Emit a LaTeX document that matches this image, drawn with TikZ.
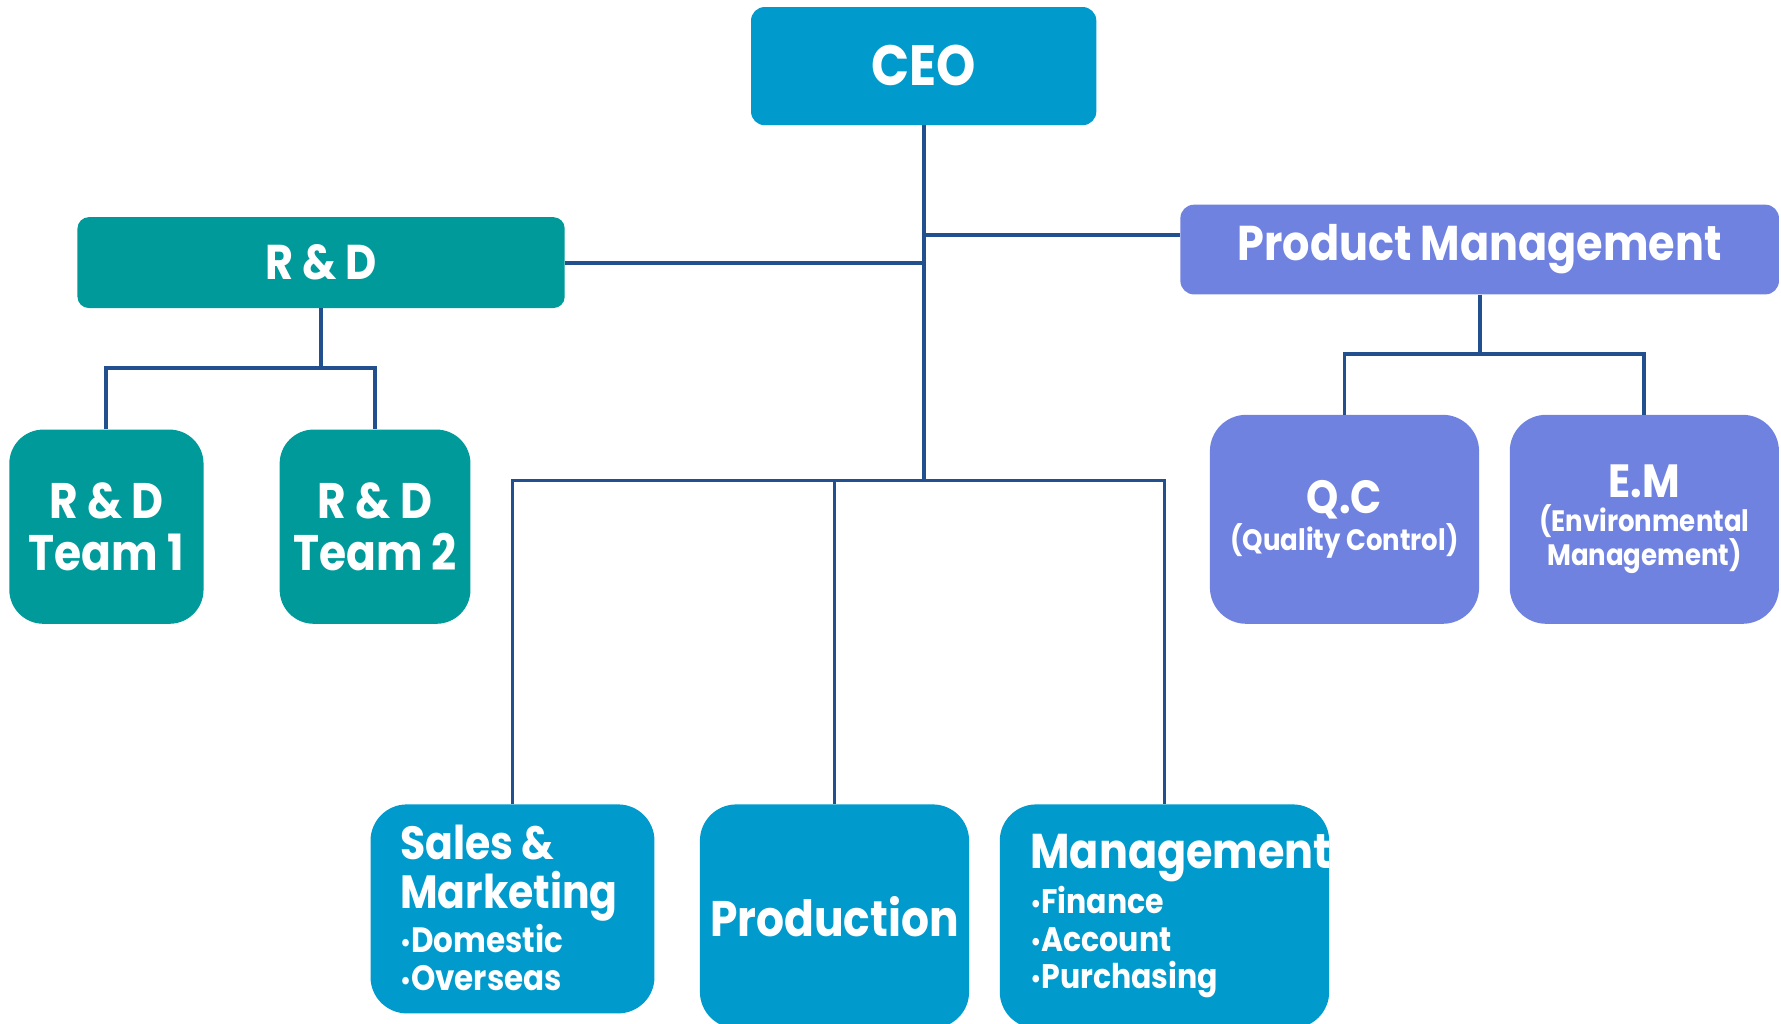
\documentclass[tikz,border=0pt]{standalone}
\usepackage{fontspec}
\setmainfont{Poppins}[FakeStretch=0.88]
\definecolor{cblue}{RGB}{0,155,204}
\definecolor{cteal}{RGB}{0,154,154}
\definecolor{cpurple}{RGB}{112,130,224}
\definecolor{cline}{RGB}{34,80,142}
\newcommand\fsz[2]{\fontsize{#1pt}{#2pt}\selectfont}
\newcommand\bul{{\fsz{22}{22}\raisebox{1pt}{•}}}
\begin{document}
\begin{tikzpicture}[x=1pt,y=-1pt,
  box/.style={rectangle, inner sep=0pt, anchor=north west, text=white, font=\bfseries},
  conn/.style={draw=cline, line width=3.4pt},
  txt/.style={inner sep=0pt, text=white, font=\bfseries, align=left, anchor=west}]
\useasboundingbox (0,0) rectangle (1568,901.5);

% boxes
\node[box, fill=cblue, rounded corners=12pt, minimum width=304pt, minimum height=104pt, font=\bfseries\fsz{50}{56}] (ceo) at (661,6) {\raisebox{2pt}{CEO}};
\node[box, fill=cteal, rounded corners=10pt, minimum width=429pt, minimum height=80pt, font=\bfseries\fsz{43}{48}] (rd) at (68,191) {R \& D};
\node[box, fill=cpurple, rounded corners=12pt, minimum width=527pt, minimum height=79pt, font=\bfseries\fsz{43}{48}] (pm) at (1039,180) {Product Management};

\node[box, fill=cteal, rounded corners=30pt, minimum width=171pt, minimum height=171pt, align=center, font=\bfseries\fsz{44}{46}] (t1) at (8,378) {R \& D\\Team 1};
\node[box, fill=cteal, rounded corners=30pt, minimum width=168pt, minimum height=171pt, align=center, font=\bfseries\fsz{44}{46}] (t2) at (246,378) {R \& D\\Team 2};

\node[box, fill=cpurple, rounded corners=32pt, minimum width=237pt, minimum height=184pt, align=center, font=\bfseries\fsz{26}{29}] (qc) at (1065,365) {{\fsz{41}{46}Q.C}\\[3pt](Quality Control)};
\node[box, fill=cpurple, rounded corners=32pt, minimum width=237pt, minimum height=184pt, align=center, font=\bfseries\fsz{26}{28}] (em) at (1329,365) {{\fsz{41}{46}E.M}\\[2pt](Environmental\\Management)};

\node[box, fill=cblue, rounded corners=32pt, minimum width=250pt, minimum height=184pt] (sales) at (326,708) {};
\node[box, fill=cblue, rounded corners=32pt, minimum width=237pt, minimum height=197pt, font=\bfseries\fsz{44}{48}] (prod) at (616,708) {Production};
\node[box, fill=cblue, rounded corners=32pt, minimum width=290pt, minimum height=197pt] (mgmt) at (880,708) {};

\node[txt, font=\bfseries\fsz{31}{33}] (salestxt) at ([xshift=26pt,yshift=1pt]sales.west) {{\fsz{41}{46}Sales \&}\\[9pt]{\fsz{41}{46}Marketing}\\[2pt]\bul Domestic\\\bul Overseas};
\node[txt, font=\bfseries\fsz{30}{33}] (mgmttxt) at ([xshift=27pt]mgmt.west) {{\fsz{43}{48}Management}\\[3pt]\bul Finance\\\bul Account\\\bul Purchasing};

% connectors
\coordinate (bus) at (813,423);
\draw[conn] (ceo.south) -- (ceo.south |- bus);
\draw[conn] (rd.east) -- (rd.east -| ceo.south);
\draw[conn] (ceo.south |- 0,207) -- (pm.west |- 0,207);
\draw[conn] (sales.north) |- (mgmt.north |- bus) -- (mgmt.north);
\draw[conn] (prod.north) -- (prod.north |- bus);
\draw[conn] (rd.south) -- (rd.south |- 0,324);
\draw[conn] (t1.north) |- (t2.north |- 0,324) -- (t2.north);
\draw[conn] (pm.south) -- (pm.south |- 0,312);
\draw[conn] (qc.north) |- (em.north |- 0,312) -- (em.north);
\end{tikzpicture}
\end{document}
